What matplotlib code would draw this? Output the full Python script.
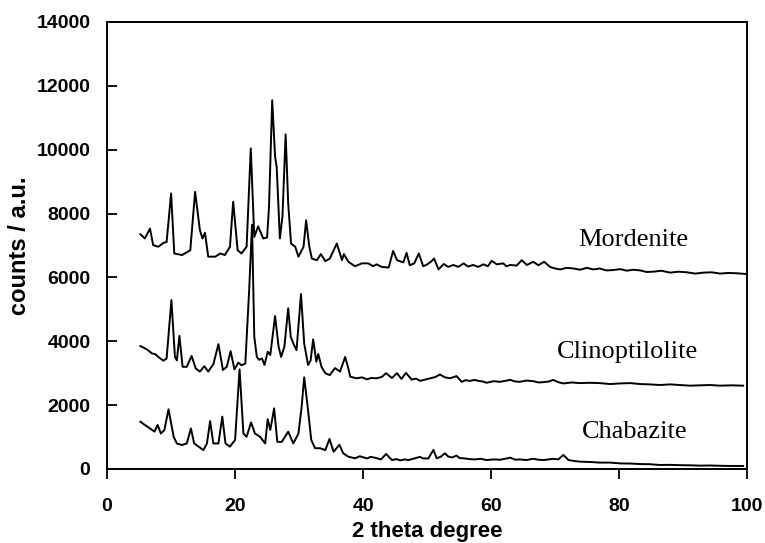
import matplotlib
matplotlib.use("Agg")
import matplotlib.pyplot as plt

# ------------------------------------ Data (2 theta, counts) ------------------------------------

mordenite = [
    (5.2, 7350), (5.9, 7220), (6.7, 7530), (7.2, 7010), (8.0, 6960), (8.8, 7080), (9.3, 7110),
    (10.0, 8630), (10.5, 6750), (11.7, 6700), (13.0, 6850), (13.75, 8680), (14.5, 7480), (14.9, 7220),
    (15.3, 7400), (15.8, 6650), (16.9, 6650), (17.7, 6750), (18.4, 6700), (19.2, 6960), (19.7, 8370),
    (20.4, 6850), (21.0, 6750), (21.8, 6960), (22.45, 10040), (23.0, 7270), (23.6, 7600), (24.4, 7220),
    (25.0, 7250), (25.3, 8210), (25.8, 11550), (26.25, 9780), (26.5, 9460), (27.0, 7220), (27.4, 7900),
    (27.9, 10480), (28.3, 8320), (28.75, 7060), (29.4, 6960), (29.9, 6650), (30.7, 6960), (31.1, 7790),
    (31.6, 6960), (32.0, 6590), (32.8, 6540), (33.4, 6730), (34.1, 6510), (34.8, 6590), (35.9, 7060),
    (36.7, 6540), (37.0, 6730), (37.7, 6490), (38.75, 6350), (39.8, 6440), (40.8, 6440), (41.6, 6350),
    (42.1, 6410), (42.9, 6330), (44.0, 6310), (44.7, 6830), (45.3, 6540), (46.3, 6470), (46.8, 6770),
    (47.3, 6380), (48.0, 6440), (48.7, 6750), (49.4, 6350), (49.95, 6400), (50.6, 6490), (51.1, 6590),
    (51.8, 6250), (52.6, 6420), (53.3, 6330), (54.1, 6390), (54.9, 6330), (55.7, 6440), (56.4, 6340),
    (57.2, 6390), (58.0, 6330), (58.8, 6410), (59.5, 6350), (60.1, 6520), (60.9, 6410), (61.9, 6440),
    (62.4, 6350), (63.0, 6390), (64.0, 6370), (64.8, 6540), (65.6, 6390), (66.6, 6490), (67.4, 6380),
    (68.3, 6490), (69.2, 6330), (70.0, 6280), (70.8, 6250), (71.8, 6300), (72.9, 6280), (73.9, 6240),
    (74.95, 6300), (76.0, 6250), (77.0, 6280), (78.0, 6220), (79.1, 6230), (80.2, 6260), (81.2, 6210),
    (82.2, 6240), (83.3, 6220), (84.3, 6170), (85.4, 6180), (86.6, 6210), (88.0, 6150), (89.3, 6180),
    (90.6, 6160), (91.9, 6120), (93.2, 6150), (94.5, 6160), (95.8, 6120), (97.1, 6140), (98.4, 6130),
    (99.7, 6110),
]

clinoptilolite = [
    (5.2, 3850), (5.9, 3780), (6.4, 3720), (7.0, 3620), (7.5, 3600), (8.0, 3510), (8.8, 3390),
    (9.3, 3460), (10.05, 5290), (10.6, 3510), (10.9, 3400), (11.3, 4170), (11.8, 3200), (12.45, 3200),
    (13.2, 3540), (13.85, 3150), (14.5, 3050), (15.2, 3220), (15.8, 3050), (16.6, 3280), (17.4, 3910),
    (18.1, 3100), (18.7, 3200), (19.3, 3690), (19.9, 3120), (20.5, 3330), (21.0, 3250), (21.6, 3300),
    (22.2, 5600), (22.65, 7650), (23.0, 4140), (23.4, 3510), (23.75, 3420), (24.2, 3460), (24.6, 3260),
    (25.1, 3670), (25.5, 3570), (26.25, 4790), (26.8, 3830), (27.2, 3510), (27.7, 3830), (28.3, 5030),
    (28.7, 4140), (29.1, 3930), (29.6, 3720), (30.3, 5480), (30.8, 3930), (31.4, 3260), (31.8, 3400),
    (32.2, 4060), (32.7, 3360), (33.0, 3600), (33.5, 3200), (34.1, 3000), (34.8, 2940), (35.6, 3160),
    (36.4, 3050), (37.2, 3510), (37.7, 3150), (38.0, 2890), (39.0, 2840), (39.8, 2870), (40.6, 2810),
    (41.3, 2850), (42.1, 2840), (42.9, 2880), (43.6, 3000), (44.5, 2850), (45.3, 3000), (46.0, 2820),
    (46.7, 3010), (47.6, 2800), (48.3, 2830), (48.9, 2760), (49.7, 2800), (50.5, 2840), (51.3, 2880),
    (52.0, 2960), (52.8, 2870), (53.6, 2840), (54.6, 2910), (55.4, 2730), (56.0, 2780), (56.7, 2760),
    (57.4, 2790), (58.0, 2760), (58.7, 2740), (59.3, 2700), (60.4, 2750), (61.4, 2730), (62.2, 2760),
    (63.0, 2790), (63.8, 2740), (64.5, 2730), (65.5, 2770), (66.6, 2750), (67.4, 2710), (68.2, 2720),
    (69.0, 2740), (69.7, 2790), (70.5, 2720), (71.3, 2680), (72.6, 2710), (73.9, 2690), (75.4, 2700),
    (77.0, 2690), (78.6, 2660), (80.2, 2680), (81.8, 2690), (83.3, 2660), (84.8, 2650), (86.4, 2630),
    (88.0, 2650), (89.5, 2630), (91.1, 2610), (92.7, 2620), (94.2, 2630), (95.8, 2610), (97.6, 2620),
    (99.4, 2610),
]

chabazite = [
    (5.2, 1480), (5.9, 1380), (6.7, 1270), (7.4, 1170), (7.9, 1380), (8.4, 1110), (8.95, 1220),
    (9.6, 1870), (10.4, 1010), (10.9, 800), (11.7, 750), (12.45, 800), (13.1, 1270), (13.6, 800),
    (14.3, 700), (15.05, 590), (15.6, 800), (16.1, 1500), (16.6, 800), (17.4, 800), (18.0, 1640),
    (18.5, 800), (19.2, 700), (20.0, 910), (20.7, 3120), (21.3, 1110), (21.8, 1010), (22.5, 1460),
    (23.1, 1110), (23.9, 1010), (24.7, 800), (25.1, 1560), (25.5, 1220), (26.1, 1900), (26.6, 850),
    (27.3, 850), (28.3, 1170), (29.1, 800), (29.9, 1110), (30.4, 1950), (30.8, 2870), (31.4, 1850),
    (31.9, 910), (32.5, 650), (33.3, 650), (34.1, 590), (34.75, 940), (35.4, 540), (36.3, 760),
    (36.9, 490), (37.7, 385), (38.75, 335), (39.5, 400), (40.6, 330), (41.2, 380), (41.9, 350),
    (42.8, 300), (43.6, 470), (44.5, 280), (45.2, 310), (45.8, 270), (46.5, 300), (47.1, 280),
    (48.1, 335), (48.9, 380), (49.4, 330), (50.2, 330), (51.0, 600), (51.5, 335), (52.1, 380),
    (52.8, 490), (53.3, 390), (53.9, 360), (54.6, 420), (55.1, 340), (55.7, 335), (56.6, 310),
    (57.5, 300), (58.4, 320), (59.3, 280), (60.4, 300), (61.4, 290), (62.2, 320), (63.0, 355),
    (63.8, 290), (64.5, 300), (65.5, 280), (66.6, 320), (67.4, 290), (68.2, 280), (69.0, 300),
    (69.7, 320), (70.5, 300), (71.3, 440), (72.1, 280), (73.0, 250), (73.9, 230), (75.4, 220),
    (77.0, 200), (78.6, 200), (80.2, 175), (81.8, 170), (83.3, 155), (84.8, 150), (86.4, 125),
    (88.0, 130), (89.5, 120), (91.1, 115), (92.7, 105), (94.2, 110), (95.8, 100), (97.6, 95),
    (99.4, 95),
]

names = ["Mordenite", "Clinoptilolite", "Chabazite"]
label_x = [82.3, 81.3, 82.4]
label_y = [7170, 3660, 1160]

# ------------------------------------------------------ Plot ------------------------------------------------------

fig = plt.figure(figsize=(7.65, 5.43), dpi=100)
ax = fig.add_axes([0.14, 0.1363, 0.8365, 0.8232])

for series in [mordenite, clinoptilolite, chabazite]:
    xs = [p[0] for p in series]
    ys = [p[1] for p in series]
    ax.plot(xs, ys, color="black", linewidth=1.4)

for name, lx, ly in zip(names, label_x, label_y):
    ax.text(lx, ly, name, fontsize=19, family="Liberation Serif", ha="center", va="center")

ax.set_xlim(0, 100)
ax.set_ylim(0, 14000)
ax.set_xticks(range(0, 101, 20))
ax.set_yticks(range(0, 14001, 2000))

ax.tick_params(axis="x", direction="out", length=7, width=1.3, pad=14)
ax.tick_params(axis="y", direction="in", length=7, width=1.3, pad=12)
for lab in ax.get_xticklabels() + ax.get_yticklabels():
    lab.set_fontfamily("Liberation Sans")
    lab.set_fontweight("bold")
    lab.set_fontsize(14)
for s in ax.spines.values():
    s.set_linewidth(1.4)

ax.set_xlabel("2 theta degree", fontsize=16, fontweight="bold", family="Liberation Sans", labelpad=4)
ax.set_ylabel("counts / a.u.", fontsize=17, fontweight="bold", family="Liberation Sans", labelpad=4)

fig.savefig("out.png", dpi=100)
